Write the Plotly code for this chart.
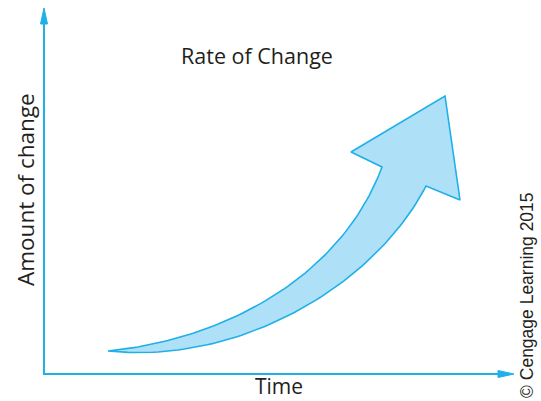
import numpy as np
import plotly.graph_objects as go

# Diagram geometry (pixel-like coordinates, y grows downward)
upper_ctrl_x = [108, 220, 340, 382]
upper_ctrl_y = [351, 340, 280, 167]
lower_ctrl_x = [426, 375, 240, 108]
lower_ctrl_y = [186, 285, 365, 351]
head_x = [382, 351, 445, 460, 426]
head_y = [167, 152, 96, 200, 186]

title_text = "Rate of Change"
x_label = "Time"
y_label = "Amount of change"
credit = "© Cengage Learning 2015"

LINE = "#1fb0e8"
FILL = "#aee0f8"


def bezier(px, py, n=80):
    t = np.linspace(0, 1, n)
    b = [(1 - t) ** 3, 3 * (1 - t) ** 2 * t, 3 * (1 - t) * t ** 2, t ** 3]
    x = sum(bi * p for bi, p in zip(b, px))
    y = sum(bi * p for bi, p in zip(b, py))
    return list(x), list(y)


ux, uy = bezier(upper_ctrl_x, upper_ctrl_y)
lx, ly = bezier(lower_ctrl_x, lower_ctrl_y)
xs = ux + head_x[1:4] + lx
ys = uy + head_y[1:4] + ly

fig = go.Figure()
fig.add_trace(go.Scatter(x=xs, y=ys, mode="lines", fill="toself",
                         fillcolor=FILL, line=dict(color=LINE, width=1.6),
                         hoverinfo="skip", showlegend=False))

shapes = [
    dict(type="line", x0=44, y0=375, x1=44, y1=20, line=dict(color=LINE, width=2)),
    dict(type="line", x0=44, y0=374, x1=502, y1=374, line=dict(color=LINE, width=2)),
    dict(type="path", path="M 40.5 24 L 44 8 L 47.5 24 Z", fillcolor=LINE, line=dict(color=LINE, width=1)),
    dict(type="path", path="M 498 370.5 L 514 374 L 498 377.5 Z", fillcolor=LINE, line=dict(color=LINE, width=1)),
]

font = "Open Sans, Noto Sans, sans-serif"
annotations = [
    dict(x=257, y=55, text=title_text, showarrow=False, font=dict(family=font, size=21.5, color="#231f20")),
    dict(x=279, y=386, text=x_label, showarrow=False, font=dict(family=font, size=21, color="#231f20")),
    dict(x=25, y=190, text=y_label, showarrow=False, textangle=-90, font=dict(family=font, size=22.5, color="#231f20")),
    dict(x=527, y=295, text=credit, showarrow=False, textangle=-90,
         font=dict(family="Liberation Sans, Arial, sans-serif", size=17.5, color="#231f20")),
]

fig.update_layout(
    width=541, height=401, margin=dict(l=0, r=0, t=0, b=0),
    paper_bgcolor="white", plot_bgcolor="white",
    xaxis=dict(range=[0, 541], visible=False, fixedrange=True),
    yaxis=dict(range=[401, 0], visible=False, fixedrange=True),
    shapes=shapes, annotations=annotations,
)
fig.write_html("out.html", config={"displayModeBar": False},
               post_script="document.body.style.margin='0';document.body.style.overflow='hidden';")
